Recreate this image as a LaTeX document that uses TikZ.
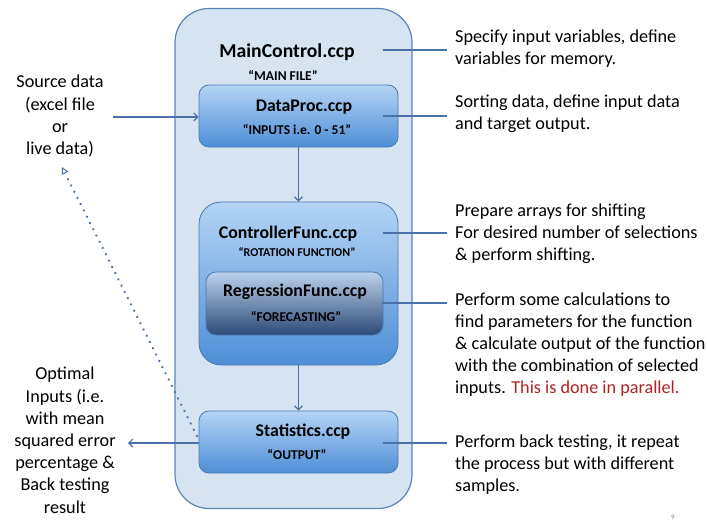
\documentclass[tikz,border=0pt]{standalone}
\usepackage{fontspec}
\setmainfont{Carlito}
\usetikzlibrary{arrows.meta,positioning,calc}

\definecolor{shellfill}{HTML}{D6E4F2}
\definecolor{shelledge}{HTML}{5A84B6}
\definecolor{boxtop}{HTML}{B4D4F6}
\definecolor{boxbot}{HTML}{4E8ED6}
\definecolor{boxedge}{HTML}{4A79B2}
\definecolor{regtop}{HTML}{BCD2EC}
\definecolor{regbot}{HTML}{2C4A78}
\definecolor{wire}{HTML}{4A72A8}
\definecolor{notered}{HTML}{B22222}

\tikzset{
  shell/.style={draw=shelledge, line width=1.2pt, fill=shellfill, rounded corners=34pt},
  filebox/.style={draw=boxedge, line width=0.8pt, top color=boxtop, bottom color=boxbot,
    rounded corners=10pt, inner sep=0pt},
  regbox/.style={draw=boxedge, line width=0.8pt, top color=regtop, bottom color=regbot,
    rounded corners=10pt, inner sep=0pt},
  bigtitle/.style={font=\fontsize{19.7}{22}\selectfont\bfseries, inner sep=0pt},
  title/.style={font=\fontsize{17.8}{20}\selectfont\bfseries, inner sep=0pt},
  subtitle/.style={font=\fontsize{13.5}{15}\selectfont\bfseries, inner sep=0pt},
  note/.style={font=\fontsize{18.2}{22}\selectfont, align=left, anchor=north west, inner sep=0pt},
  sidenote/.style={font=\fontsize{18.2}{22.2}\selectfont, align=center, anchor=north, inner sep=0pt},
  wireline/.style={draw=wire, line width=1.4pt},
  flow/.style={wireline, -{Straight Barb[length=4pt,width=8pt,line width=1.2pt]}},
  feedback/.style={draw=wire, line width=2.6pt, line cap=round, dash pattern=on 0.01pt off 7pt,
    -{Triangle[open,length=7pt,width=7pt,line width=1pt]}}
}

\begin{document}
\begin{tikzpicture}[x=1pt, y=-1pt]
\useasboundingbox (0,0) rectangle (707,522);

% outer module
\node[shell, minimum width=237pt, minimum height=500pt] (main) at (293.5,258.5) {};
\node[bigtitle] (mainT) at (287,52) {MainControl.ccp};
\node[subtitle] (mainS) at (283,76) {``MAIN FILE''};

% inner files
\node[filebox, minimum width=199pt, minimum height=62pt] (dp) at (298.5,116) {};
\node[title] (dpT) at (304,107) {DataProc.ccp};
\node[subtitle] (dpS) at (297,130) {``INPUTS i.e. 0 - 51''};

\node[filebox, rounded corners=22pt, minimum width=199pt, minimum height=163pt] (cf) at (298.5,283.5) {};
\node[title] (cfT) at (288,234) {ControllerFunc.ccp};
\node[subtitle, font=\fontsize{12}{14}\selectfont\bfseries] (cfS) at (297,252) {``ROTATION FUNCTION''};

\node[regbox, minimum width=177pt, minimum height=63pt] (rf) at (294.5,303.5) {};
\node[title] (rfT) at (295,292) {RegressionFunc.ccp};
\node[subtitle] (rfS) at (296,317) {``FORECASTING''};

\node[filebox, minimum width=199pt, minimum height=62pt] (st) at (298.5,442) {};
\node[title] (stT) at (303,432) {Statistics.ccp};
\node[subtitle] (stS) at (297,455) {``OUTPUT''};

% flow between files
\draw[flow] (dp.south) -- (cf.north);
\draw[flow] (cf.south) -- (st.north);

% left side
\node[sidenote] (src) at (60,75) {Source data\\(excel file\\or\\live data)};
\coordinate (srcEnd) at (113,117);
\draw[flow] (srcEnd) -- (srcEnd -| dp.west);

\node[sidenote] (opt) at (65,367) {Optimal\\Inputs (i.e.\\with mean\\squared error\\percentage \&\\Back testing\\result};
\coordinate (optEnd) at (128,443);
\draw[flow] (optEnd -| st.west) -- (optEnd);

\coordinate (fbStart) at (197,436);
\coordinate (fbEnd) at (62,167);
\draw[feedback] (fbStart) -- (fbEnd);

% right side notes
\node[note] (n1) at (455,30) {Specify input variables, define\\variables for memory.};
\node[note] (n2) at (455,95) {Sorting data, define input data\\and target output.};
\node[note] (n3) at (455,204) {Prepare arrays for shifting\\For desired number of selections\\\& perform shifting.};
\node[note] (n4) at (455,293) {Perform some calculations to\\find parameters for the function\\\& calculate output of the function\\with the combination of selected\\inputs. \textcolor{notered}{This is done in parallel.}};
\node[note] (n5) at (455,435) {Perform back testing, it repeat\\the process but with different\\samples.};

\coordinate (c1) at (383,50);
\coordinate (c2) at (383,116);
\coordinate (c3) at (383,233);
\coordinate (c4) at (382,303);
\coordinate (c5) at (383,443);
\coordinate (e1) at (447,50);
\coordinate (e2) at (447,116);
\coordinate (e3) at (447,233);
\coordinate (e4) at (447,303);
\coordinate (e5) at (447,443);
\foreach \i in {1,...,5} \draw[wireline] (c\i) -- (e\i);

\node[font=\fontsize{7}{8}\selectfont, text=gray, inner sep=0pt] (pg) at (673,517) {9};
\end{tikzpicture}
\end{document}
